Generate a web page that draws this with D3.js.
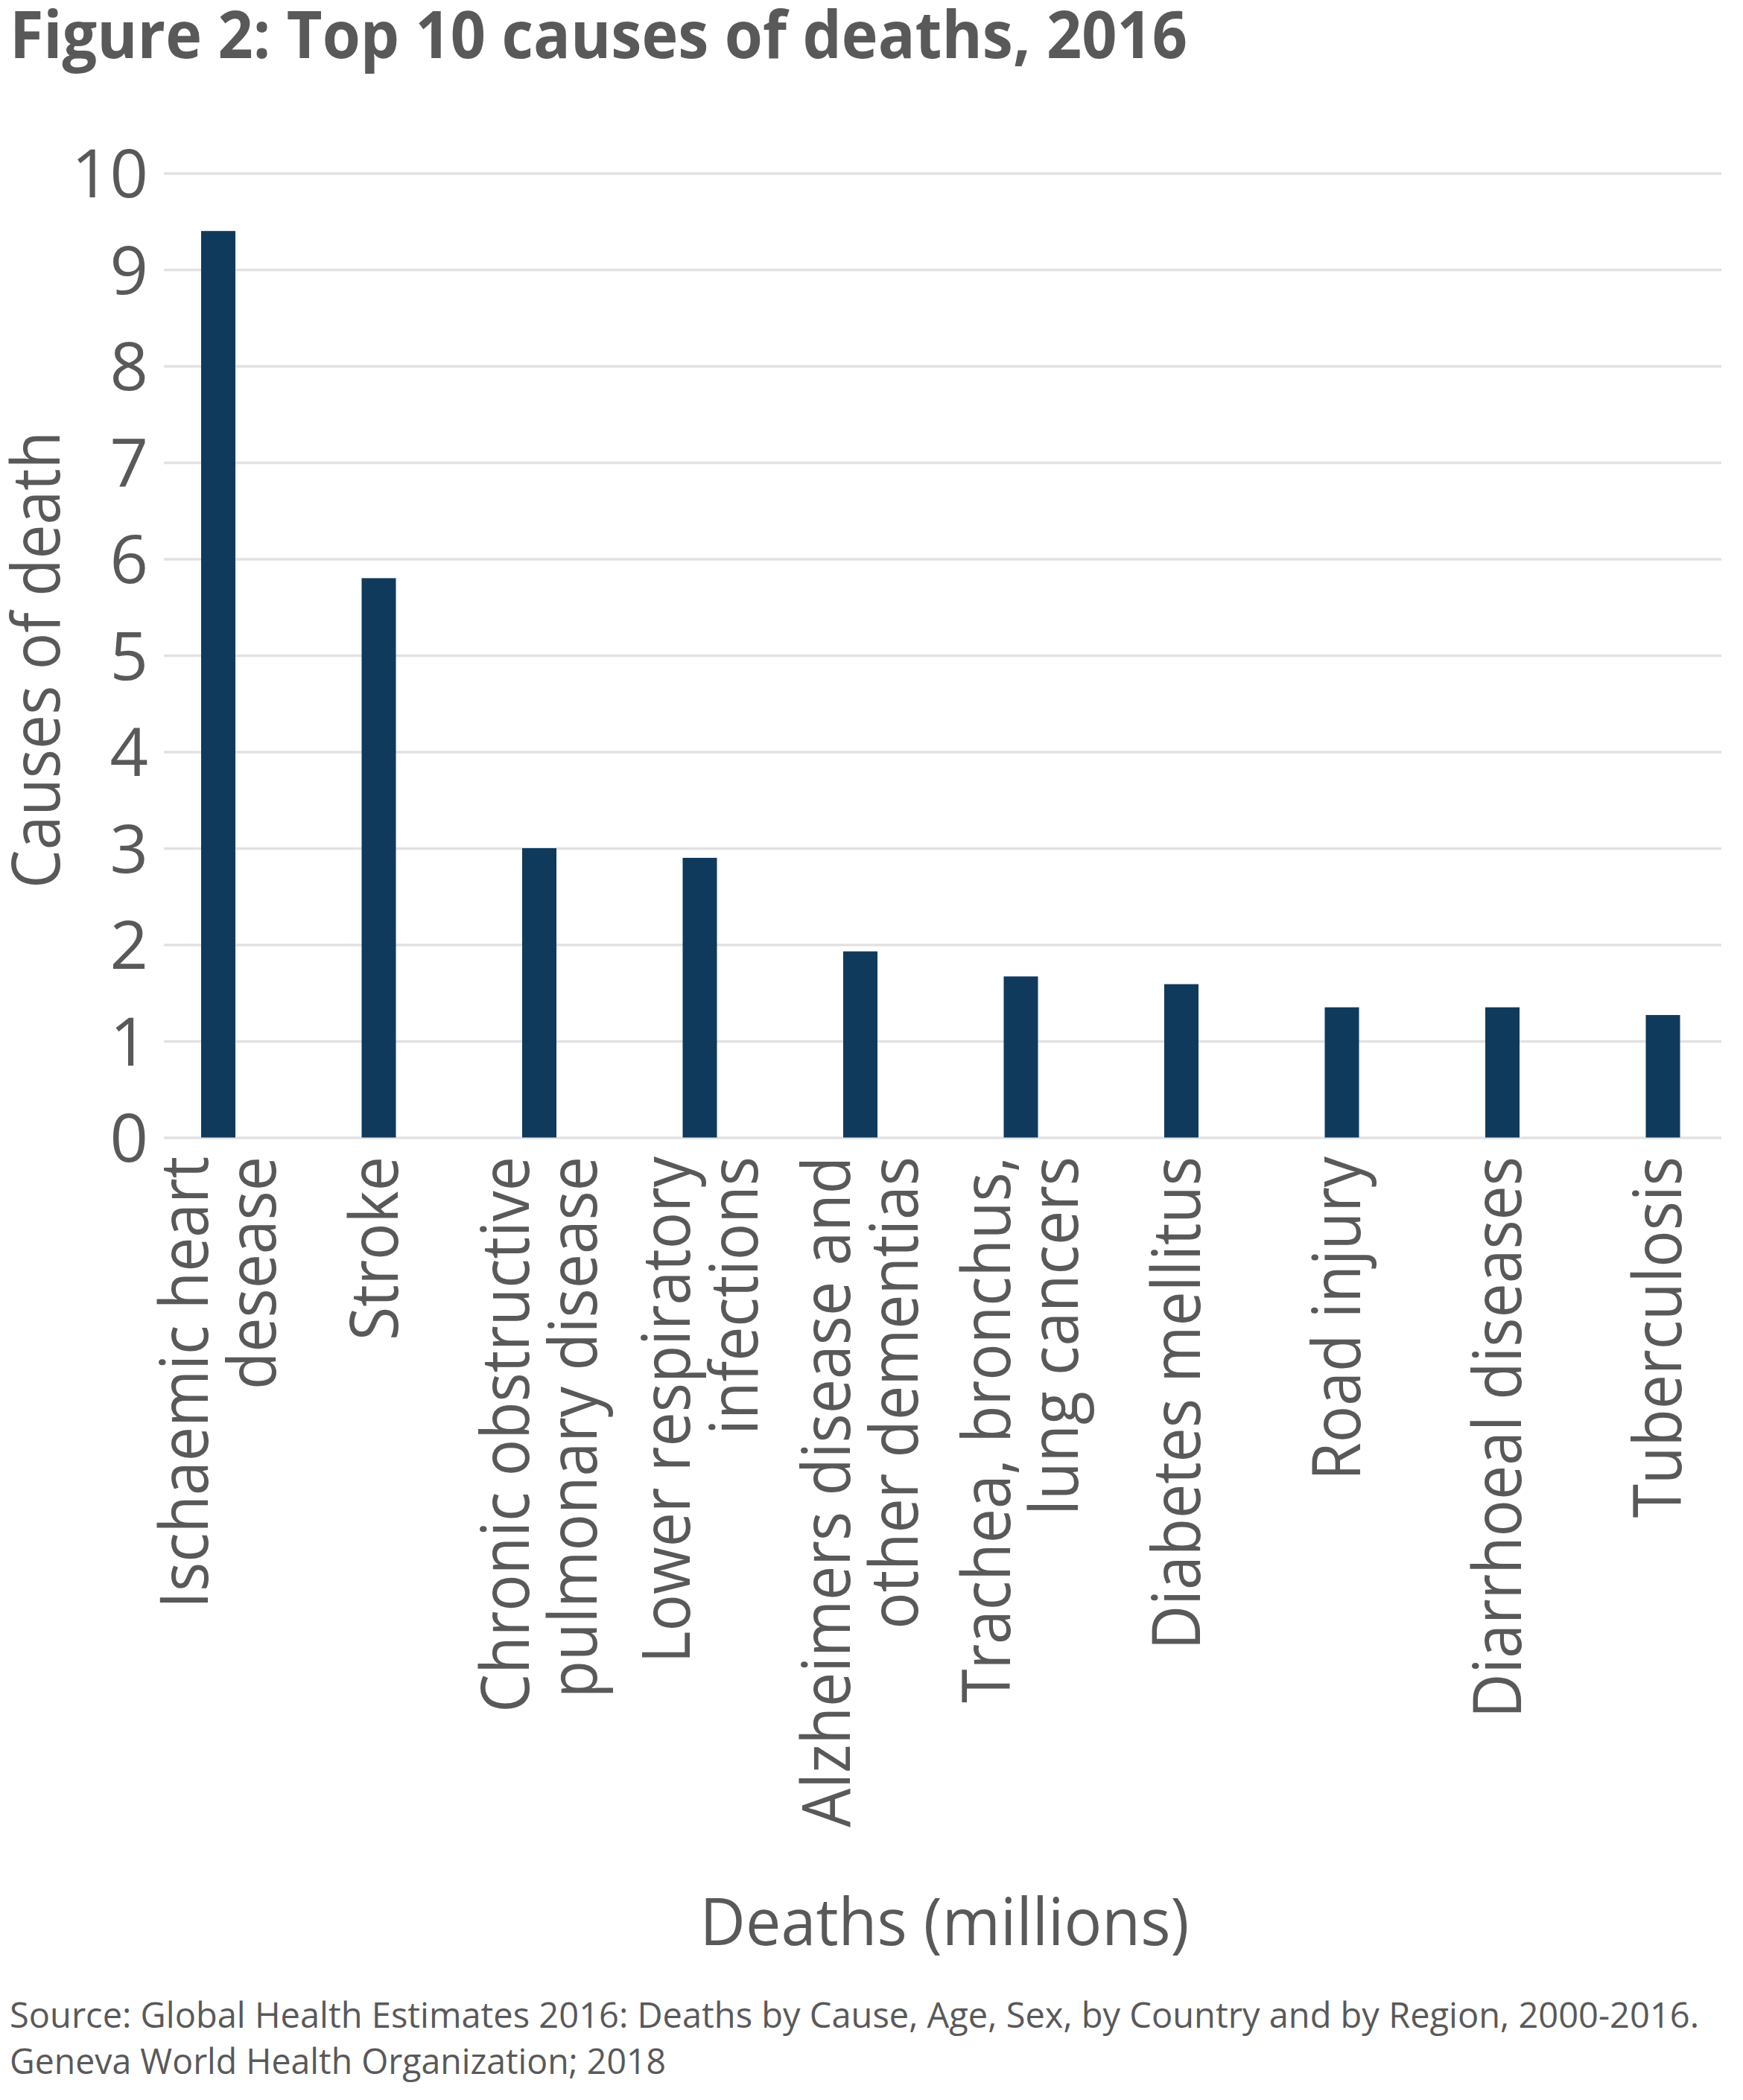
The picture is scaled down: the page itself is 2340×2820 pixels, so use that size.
<!DOCTYPE html>
<html>
<head>
<meta charset="utf-8">
<script src="https://cdn.jsdelivr.net/npm/d3@7"></script>
<style>
  html, body { margin: 0; padding: 0; background: #ffffff; }
  svg { display: block; }
  text { font-family: "Open Sans", "Noto Sans", sans-serif; fill: #595959; }
</style>
</head>
<body>
<svg id="chart" width="2340" height="2820"></svg>
<script>
// ---- data ----
const categories = [
  "Ischaemic heart\ndesease",
  "Stroke",
  "Chronic obstructive\npulmonary disease",
  "Lower respiratory\ninfections",
  "Alzheimers disease and\nother dementias",
  "Trachea, bronchus,\nlung cancers",
  "Diabetes mellitus",
  "Road injury",
  "Diarrhoeal diseases",
  "Tuberculosis"
];
const deaths = [9.4, 5.8, 3.0, 2.9, 1.93, 1.67, 1.59, 1.35, 1.35, 1.27];
const yTicks = [0, 1, 2, 3, 4, 5, 6, 7, 8, 9, 10];
const titleText = "Figure 2: Top 10 causes of deaths, 2016";
const yTitle = "Causes of death";
const xTitle = "Deaths (millions)";
const sourceLines = [
  "Source: Global Health Estimates 2016: Deaths by Cause, Age, Sex, by Country and by Region, 2000-2016.",
  "Geneva World Health Organization; 2018"
];

// ---- layout ----
const svg = d3.select("#chart");
const gridLeft = 220, gridRight = 2311;
const y = d3.scaleLinear().domain([0, 10]).range([1527.5, 232.5]);
const x = d3.scaleBand().domain(categories).range([270, 2255.5])
  .paddingInner(0.7865).paddingOuter(0).align(0);

const textColor = "#595959";
const barColor = "#0f3a5c";
const gridColor = "#e2e2e2";

// title
const title = svg.append("text")
  .attr("x", 13).attr("y", 78)
  .style("font-size", "88px").style("font-weight", "700")
  .text(titleText);
title.attr("textLength", 1581).attr("lengthAdjust", "spacingAndGlyphs");

// y axis with gridlines
const yAxis = svg.append("g")
  .attr("transform", `translate(${gridLeft},0)`)
  .call(d3.axisLeft(y).tickValues(yTicks).tickFormat(d3.format("d"))
    .tickSizeInner(-(gridRight - gridLeft)).tickSizeOuter(0).tickPadding(21));
yAxis.select(".domain").remove();
yAxis.selectAll(".tick line").attr("stroke", gridColor).attr("stroke-width", 3.5);
yAxis.selectAll(".tick text")
  .attr("dy", "0.357em")
  .style("font-size", "90px")
  .style("font-family", "'Open Sans', sans-serif")
  .attr("fill", textColor);

// bars
svg.append("g").selectAll("rect")
  .data(categories.map((c, i) => ({ c, v: deaths[i] })))
  .join("rect")
  .attr("x", d => x(d.c))
  .attr("width", x.bandwidth())
  .attr("y", d => y(d.v))
  .attr("height", d => y(0) - y(d.v))
  .attr("fill", barColor);

// category labels (rotated)
const labelTop = 1553;
const labelG = svg.append("g");
const lblNodes = [];
categories.forEach(c => {
  const lines = c.split("\n");
  const cx = x(c) + x.bandwidth() / 2;
  const g = labelG.append("g").attr("transform", `translate(${cx},${labelTop}) rotate(-90)`);
  const offsets = lines.length === 1 ? [25] : [-14, 77];
  lines.forEach((ln, j) => {
    const t = g.append("text")
      .attr("x", 0).attr("y", offsets[j])
      .attr("text-anchor", "end")
      .style("font-size", "89px")
      .text(ln);
    lblNodes.push(t);
  });
});
// condense to match reference font metrics ("Ischaemic heart" ≈ 607px long)
const refLen = lblNodes[0].node().getComputedTextLength();
const k = 607 / refLen;
lblNodes.forEach(t => {
  const L = t.node().getComputedTextLength();
  t.attr("textLength", L * k).attr("lengthAdjust", "spacingAndGlyphs");
});

// y title
svg.append("text")
  .attr("transform", `translate(80,886) rotate(-90)`)
  .attr("text-anchor", "middle")
  .style("font-size", "90px")
  .attr("textLength", 614).attr("lengthAdjust", "spacingAndGlyphs")
  .text(yTitle);

// x title
svg.append("text")
  .attr("x", 1268).attr("y", 2612)
  .attr("text-anchor", "middle")
  .style("font-size", "88px")
  .attr("textLength", 657).attr("lengthAdjust", "spacingAndGlyphs")
  .text(xTitle);

// source
const srcLens = [2268, 881];
sourceLines.forEach((s, i) => {
  svg.append("text")
    .attr("x", 13).attr("y", 2723 + i * 62)
    .style("font-size", "47px")
    .attr("textLength", srcLens[i]).attr("lengthAdjust", "spacingAndGlyphs")
    .text(s);
});
</script>
</body>
</html>
